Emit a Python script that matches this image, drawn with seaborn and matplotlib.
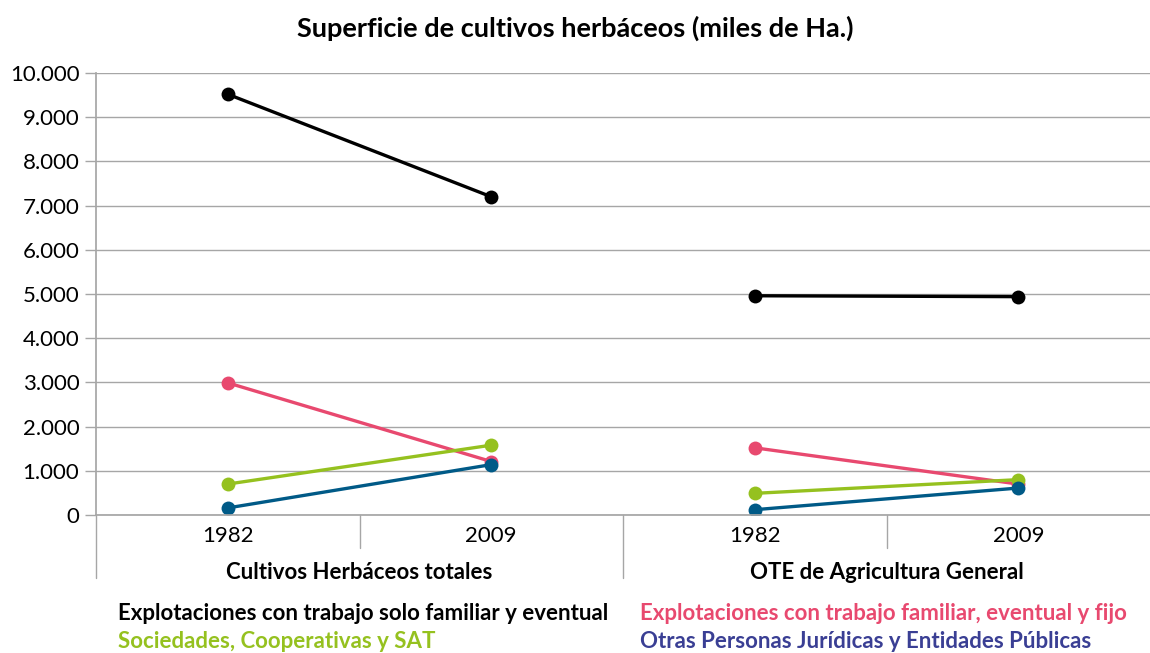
import matplotlib
matplotlib.use("Agg")
import matplotlib.pyplot as plt
import seaborn as sns
import pandas as pd
from matplotlib.ticker import FuncFormatter

# ---- data ----
groups = ["Cultivos Herbáceos totales", "OTE de Agricultura General"]
years = ["1982", "2009"]
series = [
    "Explotaciones con trabajo solo familiar y eventual",
    "Explotaciones con trabajo familiar, eventual y fijo",
    "Sociedades, Cooperativas y SAT",
    "Otras Personas Jurídicas y Entidades Públicas",
]
solo_familiar = [9520, 7200, 4960, 4940]
familiar_fijo = [2990, 1210, 1520, 700]
sociedades = [700, 1580, 490, 800]
otras = [160, 1140, 120, 610]
values = [solo_familiar, familiar_fijo, sociedades, otras]

line_colors = ["#000000", "#E8496F", "#95C11F", "#005A87"]
text_colors = ["#000000", "#E8496F", "#95C11F", "#3A3F94"]

rows = []
for s, vals in zip(series, values):
    for i, v in enumerate(vals):
        rows.append({"pos": i, "valor": v, "serie": s, "grupo": groups[i // 2]})
df = pd.DataFrame(rows)

sns.set_theme(style="white")
plt.rcParams["font.family"] = ["Lato", "DejaVu Sans"]
plt.rcParams["text.color"] = "black"
plt.rcParams["xtick.labelcolor"] = "black"
plt.rcParams["ytick.labelcolor"] = "black"

fig = plt.figure(figsize=(11.5, 6.53), dpi=100)
ax = fig.add_axes([96 / 1150, 1 - 515 / 653, 1 - 96 / 1150, 442 / 653])

sns.lineplot(data=df, x="pos", y="valor", hue="serie", units="grupo",
             estimator=None, palette=dict(zip(series, line_colors)),
             marker="o", markersize=10, markeredgewidth=0, linewidth=2.4,
             legend=False, ax=ax, hue_order=series)

ax.set_xlim(-0.5, 3.5)
ax.set_ylim(0, 10000)
ax.set_yticks(range(0, 10001, 1000))
ax.yaxis.set_major_formatter(FuncFormatter(lambda v, p: f"{int(v):,}".replace(",", ".")))
ax.grid(axis="y", color="#A6A6A6", linewidth=1)
ax.set_axisbelow(True)
ax.set_xticks(range(4))
ax.set_xticklabels(years * 2, fontsize=16)
ax.tick_params(axis="x", length=0, pad=8, labelcolor="black")
ax.tick_params(axis="y", labelsize=16, length=8, color="#A6A6A6", left=True, width=1, pad=4,
               labelcolor="black")
ax.set_xlabel("")
ax.set_ylabel("")
for side in ["top", "right"]:
    ax.spines[side].set_visible(False)
ax.spines["bottom"].set_color("#A6A6A6")
ax.spines["left"].set_color("#A6A6A6")

xt = ax.get_xaxis_transform()
for x, depth in [(-0.5, -0.1425), (0.5, -0.075), (1.5, -0.1425), (2.5, -0.075)]:
    ax.plot([x, x], [0, depth], transform=xt, color="#A6A6A6", lw=1, clip_on=False)
for gi, g in enumerate(groups):
    ax.text(0.5 + 2 * gi, -0.13, g, transform=xt, ha="center", va="center",
            fontsize=16, fontweight="bold", color="#000000")

fig.text(0.5, 1 - 28 / 653, "Superficie de cultivos herbáceos (miles de Ha.)",
         ha="center", va="center", fontsize=19.5, fontweight="bold", color="black")

legend_pos = [(118, 613), (640, 613), (118, 641), (640, 641)]
for (px, py), s, c in zip(legend_pos, series, text_colors):
    fig.text(px / 1150, 1 - py / 653, s, ha="left", va="center",
             fontsize=16, fontweight="bold", color=c)

fig.savefig("out.png", dpi=100)
